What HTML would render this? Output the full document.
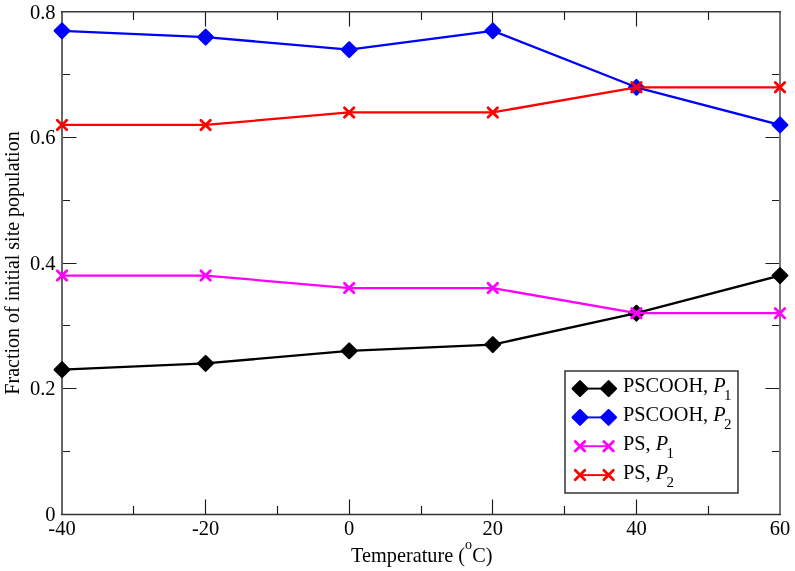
<!DOCTYPE html>
<html><head><meta charset="utf-8"><style>
html,body{margin:0;padding:0;background:#fff;width:795px;height:571px;overflow:hidden}
svg{display:block;will-change:transform}
</style></head><body>
<svg width="795" height="571" viewBox="0 0 795 571">
<rect width="795" height="571" fill="#fff"/>
<path d="M133.50 514V506M133.50 12V20M205.50 514V499.5M205.50 12V26.5M277.50 514V506M277.50 12V20M349.50 514V499.5M349.50 12V26.5M421.50 514V506M421.50 12V20M492.50 514V499.5M492.50 12V26.5M564.50 514V506M564.50 12V20M636.50 514V499.5M636.50 12V26.5M708.50 514V506M708.50 12V20M62 451.50H70M780 451.50H772M62 388.50H76.5M780 388.50H765.5M62 325.50H70M780 325.50H772M62 263.50H76.5M780 263.50H765.5M62 200.50H70M780 200.50H772M62 137.50H76.5M780 137.50H765.5M62 74.50H70M780 74.50H772" stroke="#1a1a1a" stroke-width="1.15" fill="none"/>
<path d="M62 11.5V515" stroke="#666" stroke-width="2" fill="none"/>
<path d="M780 11.5V515" stroke="#777" stroke-width="2" fill="none"/>
<path d="M61 11.7H781" stroke="#3a3a3a" stroke-width="1.45" fill="none"/>
<path d="M61 514.5H781" stroke="#333" stroke-width="1.4" fill="none"/>
<polyline points="62.00,369.68 205.60,363.40 349.20,350.85 492.80,344.57 636.40,313.20 780.00,275.55" fill="none" stroke="#000000" stroke-width="2.3" stroke-linejoin="round"/>
<path d="M54.65 369.68L62.00 362.32L69.35 369.68L62.00 377.03Z" fill="#000000" stroke="#000000" stroke-width="2.2" stroke-linejoin="round"/>
<path d="M198.25 363.40L205.60 356.05L212.95 363.40L205.60 370.75Z" fill="#000000" stroke="#000000" stroke-width="2.2" stroke-linejoin="round"/>
<path d="M341.85 350.85L349.20 343.50L356.55 350.85L349.20 358.20Z" fill="#000000" stroke="#000000" stroke-width="2.2" stroke-linejoin="round"/>
<path d="M485.45 344.57L492.80 337.22L500.15 344.57L492.80 351.93Z" fill="#000000" stroke="#000000" stroke-width="2.2" stroke-linejoin="round"/>
<path d="M629.05 313.20L636.40 305.85L643.75 313.20L636.40 320.55Z" fill="#000000" stroke="#000000" stroke-width="2.2" stroke-linejoin="round"/>
<path d="M772.65 275.55L780.00 268.20L787.35 275.55L780.00 282.90Z" fill="#000000" stroke="#000000" stroke-width="2.2" stroke-linejoin="round"/>
<polyline points="62.00,30.82 205.60,37.10 349.20,49.65 492.80,30.82 636.40,87.30 780.00,124.95" fill="none" stroke="#0000ff" stroke-width="2.3" stroke-linejoin="round"/>
<path d="M54.65 30.82L62.00 23.47L69.35 30.82L62.00 38.17Z" fill="#0000ff" stroke="#0000ff" stroke-width="2.2" stroke-linejoin="round"/>
<path d="M198.25 37.10L205.60 29.75L212.95 37.10L205.60 44.45Z" fill="#0000ff" stroke="#0000ff" stroke-width="2.2" stroke-linejoin="round"/>
<path d="M341.85 49.65L349.20 42.30L356.55 49.65L349.20 57.00Z" fill="#0000ff" stroke="#0000ff" stroke-width="2.2" stroke-linejoin="round"/>
<path d="M485.45 30.82L492.80 23.47L500.15 30.82L492.80 38.17Z" fill="#0000ff" stroke="#0000ff" stroke-width="2.2" stroke-linejoin="round"/>
<path d="M629.05 87.30L636.40 79.95L643.75 87.30L636.40 94.65Z" fill="#0000ff" stroke="#0000ff" stroke-width="2.2" stroke-linejoin="round"/>
<path d="M772.65 124.95L780.00 117.60L787.35 124.95L780.00 132.30Z" fill="#0000ff" stroke="#0000ff" stroke-width="2.2" stroke-linejoin="round"/>
<polyline points="62.00,275.55 205.60,275.55 349.20,288.10 492.80,288.10 636.40,313.20 780.00,313.20" fill="none" stroke="#ff00ff" stroke-width="2.3" stroke-linejoin="round"/>
<path d="M57.25 270.80L66.75 280.30M57.25 280.30L66.75 270.80" stroke="#ff00ff" stroke-width="2.8" stroke-linecap="round" fill="none"/>
<path d="M200.85 270.80L210.35 280.30M200.85 280.30L210.35 270.80" stroke="#ff00ff" stroke-width="2.8" stroke-linecap="round" fill="none"/>
<path d="M344.45 283.35L353.95 292.85M344.45 292.85L353.95 283.35" stroke="#ff00ff" stroke-width="2.8" stroke-linecap="round" fill="none"/>
<path d="M488.05 283.35L497.55 292.85M488.05 292.85L497.55 283.35" stroke="#ff00ff" stroke-width="2.8" stroke-linecap="round" fill="none"/>
<path d="M631.65 308.45L641.15 317.95M631.65 317.95L641.15 308.45" stroke="#ff00ff" stroke-width="2.8" stroke-linecap="round" fill="none"/>
<path d="M775.25 308.45L784.75 317.95M775.25 317.95L784.75 308.45" stroke="#ff00ff" stroke-width="2.8" stroke-linecap="round" fill="none"/>
<polyline points="62.00,124.95 205.60,124.95 349.20,112.40 492.80,112.40 636.40,87.30 780.00,87.30" fill="none" stroke="#ff0000" stroke-width="2.3" stroke-linejoin="round"/>
<path d="M57.25 120.20L66.75 129.70M57.25 129.70L66.75 120.20" stroke="#ff0000" stroke-width="2.8" stroke-linecap="round" fill="none"/>
<path d="M200.85 120.20L210.35 129.70M200.85 129.70L210.35 120.20" stroke="#ff0000" stroke-width="2.8" stroke-linecap="round" fill="none"/>
<path d="M344.45 107.65L353.95 117.15M344.45 117.15L353.95 107.65" stroke="#ff0000" stroke-width="2.8" stroke-linecap="round" fill="none"/>
<path d="M488.05 107.65L497.55 117.15M488.05 117.15L497.55 107.65" stroke="#ff0000" stroke-width="2.8" stroke-linecap="round" fill="none"/>
<path d="M631.65 82.55L641.15 92.05M631.65 92.05L641.15 82.55" stroke="#ff0000" stroke-width="2.8" stroke-linecap="round" fill="none"/>
<path d="M775.25 82.55L784.75 92.05M775.25 92.05L784.75 82.55" stroke="#ff0000" stroke-width="2.8" stroke-linecap="round" fill="none"/>
<g font-family="Liberation Serif" font-size="20.5" fill="#000"><text x="55.5" y="520.50" text-anchor="end">0</text><text x="55.5" y="395.00" text-anchor="end">0.2</text><text x="55.5" y="269.50" text-anchor="end">0.4</text><text x="55.5" y="144.00" text-anchor="end">0.6</text><text x="55.5" y="18.50" text-anchor="end">0.8</text><text x="62.00" y="535.4" text-anchor="middle">-40</text><text x="205.60" y="535.4" text-anchor="middle">-20</text><text x="349.20" y="535.4" text-anchor="middle">0</text><text x="492.80" y="535.4" text-anchor="middle">20</text><text x="636.40" y="535.4" text-anchor="middle">40</text><text x="780.00" y="535.4" text-anchor="middle">60</text></g>
<text x="351" y="561.6" font-family="Liberation Serif" font-size="20.3" fill="#000">Temperature (<tspan font-size="14" x="464.9" dy="-12.6">o</tspan><tspan x="472.2" dy="12.6">C)</tspan></text>
<text transform="translate(19,263) rotate(-90)" text-anchor="middle" font-family="Liberation Serif" font-size="20" fill="#000">Fraction of initial site population</text>
<rect x="565" y="371" width="173" height="122" fill="#fff" stroke="#333" stroke-width="1.5"/><path d="M580 388.6H608.6" stroke="#000000" stroke-width="1.9"/><path d="M572.65 388.60L580.00 381.25L587.35 388.60L580.00 395.95Z" fill="#000000" stroke="#000000" stroke-width="2.2" stroke-linejoin="round"/><path d="M601.25 388.60L608.60 381.25L615.95 388.60L608.60 395.95Z" fill="#000000" stroke="#000000" stroke-width="2.2" stroke-linejoin="round"/><text x="623" y="391.90" font-family="Liberation Serif" font-size="20.3" fill="#000">PSCOOH, <tspan font-style="italic">P</tspan><tspan font-size="15" dx="-1.6" dy="8">1</tspan></text><path d="M580 417.4H608.6" stroke="#0000ff" stroke-width="1.9"/><path d="M572.65 417.40L580.00 410.05L587.35 417.40L580.00 424.75Z" fill="#0000ff" stroke="#0000ff" stroke-width="2.2" stroke-linejoin="round"/><path d="M601.25 417.40L608.60 410.05L615.95 417.40L608.60 424.75Z" fill="#0000ff" stroke="#0000ff" stroke-width="2.2" stroke-linejoin="round"/><text x="623" y="421.30" font-family="Liberation Serif" font-size="20.3" fill="#000">PSCOOH, <tspan font-style="italic">P</tspan><tspan font-size="15" dx="-1.6" dy="8">2</tspan></text><path d="M580 446.2H608.6" stroke="#ff00ff" stroke-width="1.9"/><path d="M575.25 441.45L584.75 450.95M575.25 450.95L584.75 441.45" stroke="#ff00ff" stroke-width="2.8" stroke-linecap="round" fill="none"/><path d="M603.85 441.45L613.35 450.95M603.85 450.95L613.35 441.45" stroke="#ff00ff" stroke-width="2.8" stroke-linecap="round" fill="none"/><text x="623" y="449.90" font-family="Liberation Serif" font-size="20.3" fill="#000">PS, <tspan font-style="italic">P</tspan><tspan font-size="15" dx="-1.6" dy="8">1</tspan></text><path d="M580 475.1H608.6" stroke="#ff0000" stroke-width="1.9"/><path d="M575.25 470.35L584.75 479.85M575.25 479.85L584.75 470.35" stroke="#ff0000" stroke-width="2.8" stroke-linecap="round" fill="none"/><path d="M603.85 470.35L613.35 479.85M603.85 479.85L613.35 470.35" stroke="#ff0000" stroke-width="2.8" stroke-linecap="round" fill="none"/><text x="623" y="478.80" font-family="Liberation Serif" font-size="20.3" fill="#000">PS, <tspan font-style="italic">P</tspan><tspan font-size="15" dx="-1.6" dy="8">2</tspan></text>
</svg>
</body></html>
